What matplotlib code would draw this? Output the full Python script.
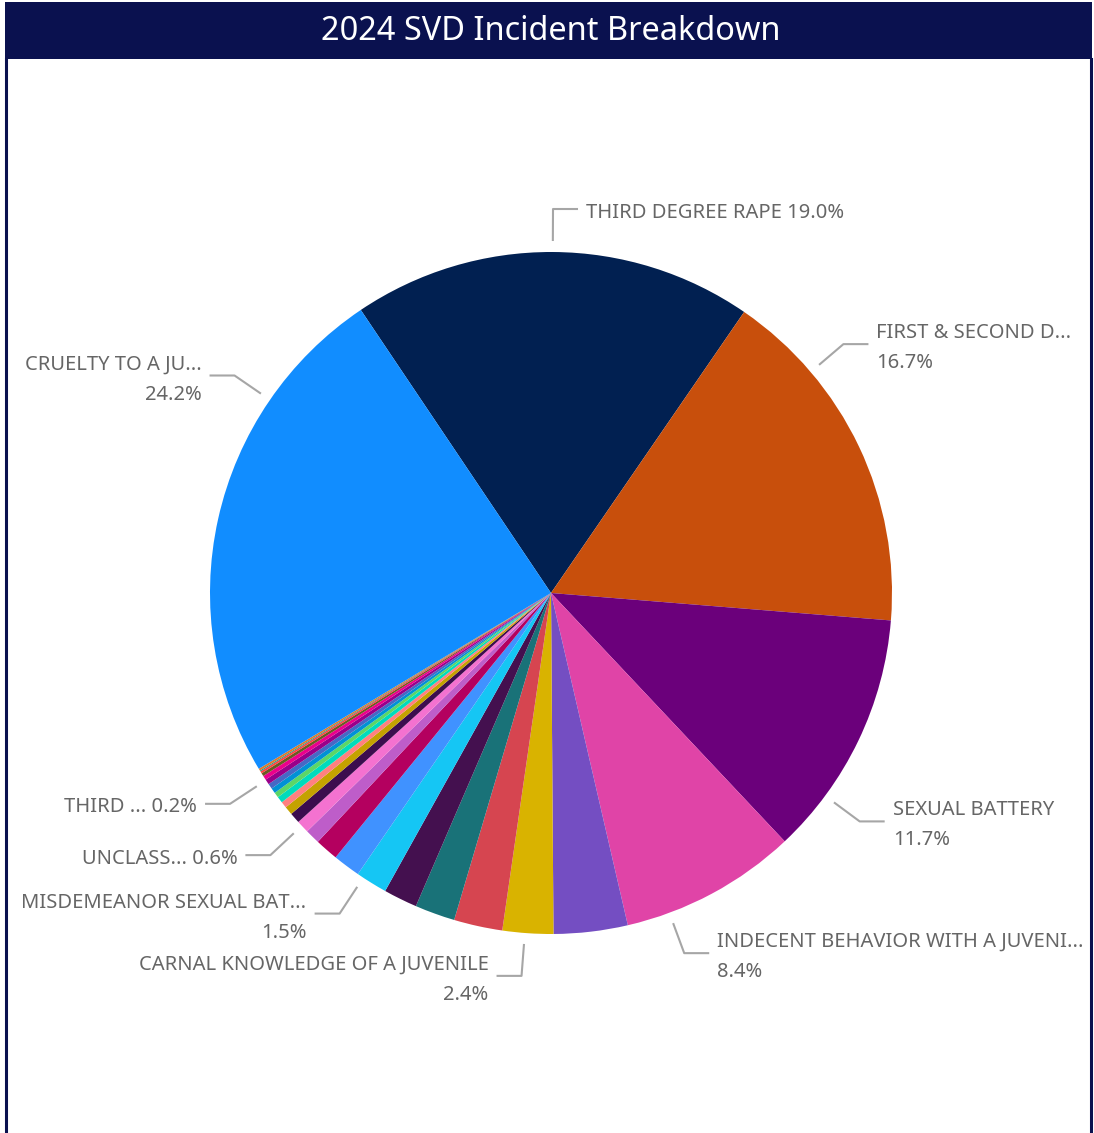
import numpy as np
import matplotlib
matplotlib.use("Agg")
import matplotlib.pyplot as plt
from matplotlib.patches import Rectangle

# slice data, clockwise from the top-left edge of the first slice
categories = [
    "THIRD DEGREE RAPE", "FIRST & SECOND D...", "SEXUAL BATTERY",
    "INDECENT BEHAVIOR WITH A JUVENI...", "", "CARNAL KNOWLEDGE OF A JUVENILE",
    "", "", "", "MISDEMEANOR SEXUAL BAT...", "", "", "", "UNCLASS...", "",
    "", "", "", "", "", "", "", "THIRD ...", "", "", "", "", "CRUELTY TO A JU...",
]
values = [
    19.0, 16.7, 11.7, 8.4, 3.5, 2.4, 2.3, 1.9, 1.6, 1.5, 1.3, 1.1, 0.7, 0.6,
    0.5, 0.4, 0.3, 0.3, 0.25, 0.25, 0.25, 0.25, 0.2, 0.15, 0.1, 0.05, 0.1, 24.2,
]
colors = [
    "#012051", "#C84F0C", "#6B007B", "#E044A7", "#744EC2", "#D9B300",
    "#D64550", "#197278", "#44104F", "#15C6F4", "#4092FF", "#B4005F",
    "#BE5DC9", "#F472D0", "#3C0D4E", "#C4A200", "#FF8080", "#00DBBC",
    "#5BD667", "#0091D5", "#4668C5", "#99008A", "#EC008C", "#6B5A21",
    "#FF4141", "#1F9A85", "#E07A2A", "#118DFF",
]

# label layout: leader angle (deg clockwise from top), two-line or not
label_angle = {0: 0.3, 1: 49.6, 2: 126.5, 3: 159.7, 5: 184.4, 9: 213.4,
               13: 226.95, 22: 236.7, 27: 304.5}
two_line = {1, 2, 3, 5, 9, 27}

W, H = 1094, 1133
cx, cy, R = 551, 593, 341

def py(y):
    return H - y

fig = plt.figure(figsize=(W / 100, H / 100), dpi=100)
ax = fig.add_axes([0, 0, 1, 1])

ax.pie(values, colors=colors, startangle=123.9, counterclock=False,
       center=(cx, py(cy)), radius=R, wedgeprops=dict(linewidth=0))

total = sum(values)
lab_fs = 14.5
for i, th in label_angle.items():
    t = np.radians(th)
    x1, y1 = cx + 352 * np.sin(t), cy - 352 * np.cos(t)
    x2, y2 = cx + 384 * np.sin(t), cy - 384 * np.cos(t)
    d = 1 if np.sin(t) >= 0 else -1
    x3 = x2 + d * 25
    ax.plot([x1, x2, x3], [py(y1), py(y2), py(y2)], color="#A6A6A6", lw=1.5,
            solid_capstyle="butt")
    pct = f"{values[i] / total * 100:.1f}%"
    ha = "left" if d > 0 else "right"
    tx = x3 + d * 8
    if i in two_line:
        ax.text(tx, py(y2 - 11), categories[i], ha=ha, va="center",
                fontsize=lab_fs, color="#666666", family="Noto Sans")
        ax.text(tx, py(y2 + 19), pct, ha=ha, va="center",
                fontsize=lab_fs, color="#666666", family="Noto Sans")
    else:
        ax.text(tx, py(y2 + 3.5), f"{categories[i]} {pct}", ha=ha, va="center",
                fontsize=lab_fs, color="#666666", family="Noto Sans")

# header bar and panel border
navy = "#0A114F"
ax.add_patch(Rectangle((5, py(59)), 1087, 57, color=navy, lw=0))
ax.plot([6, 6], [py(59), 0], color=navy, lw=2.2)
ax.plot([1091, 1091], [py(59), 0], color=navy, lw=2.2)
ax.text(551, py(31), "2024 SVD Incident Breakdown", ha="center", va="center",
        fontsize=23.4, color="white", family="Noto Sans")

ax.set_xlim(0, W)
ax.set_ylim(0, H)
ax.set_aspect("auto")
ax.axis("off")

fig.savefig("out.png", dpi=100)
